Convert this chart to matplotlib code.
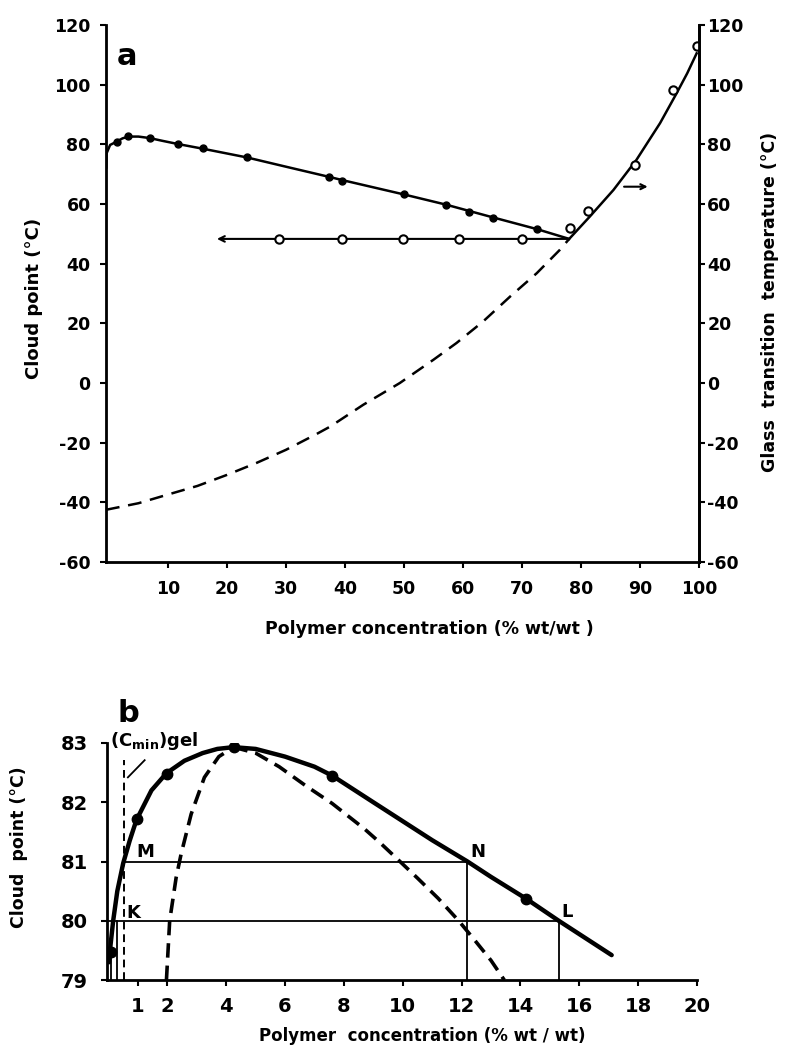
import numpy as np
import matplotlib.pyplot as plt

plt.rcParams['font.family'] = 'DejaVu Sans'
plt.rcParams['axes.unicode_minus'] = False

# panel a: cloud point curve (filled) and glass transition curve (open)
cp_x = [1.3, 3.3, 6.9, 11.7, 16.0, 23.4, 37.3, 39.5, 50.0, 57.1, 61.0, 65.1, 72.5]
cp_y = [80.9, 82.9, 82.0, 80.1, 78.7, 75.8, 69.1, 67.7, 63.4, 59.7, 57.4, 55.3, 51.7]
cp_line_x = [-0.45, -0.4, 0.2, 1.3, 2.3, 3.3, 5.0, 6.9, 9.0, 11.7, 16.0, 23.4, 30.0,
             37.3, 40.0, 50.0, 57.1, 61.0, 65.1, 72.5, 78.0]
cp_line_y = [72.0, 77.0, 79.8, 80.9, 82.0, 82.6, 82.6, 82.1, 81.2, 80.1, 78.5, 75.6, 72.5,
             69.1, 67.8, 63.2, 59.8, 57.7, 55.5, 51.6, 48.3]

gel_x = [28.8, 39.5, 49.8, 59.3, 70.0]
gel_y = [48.3, 48.3, 48.3, 48.3, 48.3]

tg_x = [78.1, 81.2, 89.2, 95.6, 99.6]
tg_y = [51.9, 57.5, 73.1, 98.2, 113.0]
tg_line_x = [78.0, 81.5, 85.5, 89.4, 93.4, 96.2, 98.0, 99.6]
tg_line_y = [48.3, 55.8, 64.7, 74.8, 87.1, 97.1, 103.8, 110.5]
tg_ext_x = [-0.5, 5, 9.8, 15, 20, 25, 30, 35, 37.5, 43.1, 49.3, 55, 58.9, 63.4, 68, 72.5, 76.4, 78]
tg_ext_y = [-42.5, -40.3, -37.5, -34.5, -30.8, -26.8, -22.4, -17.3, -14.6, -7.3, 0.0,
            7.8, 13.4, 20.6, 29.0, 36.8, 44.6, 48.3]

# panel b: low concentration detail
b_pts_x = [0.08, 0.97, 2.0, 4.25, 7.6, 14.2]
b_pts_y = [79.47, 81.72, 82.48, 82.93, 82.45, 80.37]
b_line_x = [0.02, 0.05, 0.16, 0.3, 0.5, 0.72, 0.95, 1.46, 1.97, 2.58, 3.2, 3.7, 4.25, 5.0,
            6.0, 7.0, 7.6, 9.0, 10.0, 11.0, 12.2, 13.0, 14.2, 15.3, 16.2, 17.1]
b_line_y = [79.3, 79.5, 80.0, 80.5, 80.97, 81.35, 81.7, 82.2, 82.49, 82.7, 82.83, 82.9, 82.93,
            82.9, 82.77, 82.6, 82.45, 82.0, 81.68, 81.36, 81.0, 80.74, 80.37, 80.0, 79.71, 79.42]
b_rise_x = [1.97, 2.08, 2.3, 2.47, 2.81, 3.26, 3.75, 4.25]
b_rise_y = [79.0, 80.0, 80.73, 81.13, 81.8, 82.42, 82.77, 82.93]
b_fall_x = [4.25, 5.0, 5.8, 6.7, 7.6, 8.7, 9.2, 9.8, 10.5, 11.2, 11.9, 12.4, 13.0, 13.45]
b_fall_y = [82.93, 82.83, 82.6, 82.28, 81.98, 81.55, 81.33, 81.05, 80.72, 80.38, 80.0, 79.7,
            79.33, 79.0]
cmin_gel = 0.52
M_x, N_x, L_x, K_x = 0.5, 12.2, 15.3, 0.3

fig = plt.figure(figsize=(7.9, 10.5), dpi=100)

# ---------------- panel a ----------------
ax1 = fig.add_axes([106/790, 1 - 562/1050, 593/790, 537/1050])
ax1.set_xlim(-0.5, 100)
ax1.set_ylim(-60, 120)
ax1.spines['top'].set_visible(False)
for s in ['left', 'right', 'bottom']:
    ax1.spines[s].set_linewidth(2.0)
ax1.set_xticks(np.arange(10, 101, 10))
ax1.set_yticks(np.arange(-60, 121, 20))
ax1.tick_params(axis='both', direction='out', length=4, width=1.5, labelsize=12.5)
ax1.tick_params(axis='x', pad=9)
ax1.tick_params(axis='y', pad=7)
for lab in ax1.get_xticklabels() + ax1.get_yticklabels():
    lab.set_fontweight('bold')

ax1.plot(cp_line_x, cp_line_y, c='black', lw=1.8, solid_capstyle='round')
ax1.plot(cp_x, cp_y, 'o', c='black', ms=5)
ax1.plot(tg_line_x, tg_line_y, c='black', lw=1.8)
ax1.plot(tg_ext_x, tg_ext_y, c='black', lw=1.8, dashes=(5.5, 3.5))
ax1.annotate('', xy=(18.3, 48.3), xytext=(78.0, 48.3),
             arrowprops=dict(arrowstyle='->', lw=1.5, color='black',
                             shrinkA=0, shrinkB=0, mutation_scale=10))
ax1.plot(gel_x, gel_y, 'o', c='black', mfc='white', ms=6, mew=1.5, zorder=5)
ax1.plot(tg_x, tg_y, 'o', c='black', mfc='white', ms=6, mew=1.5, zorder=5)
ax1.annotate('', xy=(91.3, 65.8), xytext=(87.3, 65.8),
             arrowprops=dict(arrowstyle='->', lw=1.5, color='black',
                             shrinkA=0, shrinkB=0, mutation_scale=9))
ax1.text(1.4, 106.5, 'a', fontsize=22, fontweight='bold')

ax1.set_ylabel('Cloud point (°C)', fontsize=13, fontweight='bold')
ax1.yaxis.set_label_coords(-0.106, 0.49)
ax1.set_xlabel('Polymer concentration (% wt/wt )', fontsize=12.5, fontweight='bold')
ax1.xaxis.set_label_coords(0.545, -0.108)

ax1r = ax1.twinx()
ax1r.set_ylim(-60, 120)
ax1r.set_yticks(np.arange(-60, 121, 20))
ax1r.tick_params(axis='y', direction='out', length=4, width=1.5, labelsize=12.5, pad=2)
for lab in ax1r.get_yticklabels():
    lab.set_fontweight('bold')
ax1r.spines['top'].set_visible(False)
ax1r.spines['right'].set_linewidth(2.0)
ax1r.set_ylabel('Glass  transition  temperature (°C)', fontsize=12.5, fontweight='bold')
ax1r.yaxis.set_label_coords(1.105, 0.485)

# ---------------- panel b ----------------
ax2 = fig.add_axes([107/790, 1 - 980/1050, 590/790, 237/1050])
ax2.set_xlim(-0.05, 20)
ax2.set_ylim(79, 83)
ax2.spines['top'].set_visible(False)
ax2.spines['right'].set_visible(False)
for s in ['left', 'bottom']:
    ax2.spines[s].set_linewidth(2.0)
ax2.set_xticks([1, 2, 4, 6, 8, 10, 12, 14, 16, 18, 20])
ax2.set_yticks([79, 80, 81, 82, 83])
ax2.tick_params(axis='both', direction='out', length=4, width=1.5, labelsize=14)
ax2.tick_params(axis='x', pad=8)
ax2.tick_params(axis='y', pad=10)
for lab in ax2.get_xticklabels() + ax2.get_yticklabels():
    lab.set_fontweight('bold')

# construction lines
ax2.plot([M_x, N_x], [81, 81], c='black', lw=1.3)
ax2.plot([-0.05, L_x], [80, 80], c='black', lw=1.3)
ax2.plot([N_x, N_x], [79, 81], c='black', lw=1.3)
ax2.plot([L_x, L_x], [79, 80], c='black', lw=1.3)
ax2.plot([0.1, 0.1], [79, 79.5], c='black', lw=1.3)
ax2.plot([K_x, K_x], [79, 80], c='black', lw=1.3)
ax2.plot([cmin_gel, cmin_gel], [79, 82.72], c='black', lw=1.4, dashes=(4, 2.5))
ax2.plot([0.66, 1.23], [82.42, 82.71], c='black', lw=1.3)

ax2.plot(b_line_x, b_line_y, c='black', lw=3.2, solid_capstyle='round')
ax2.plot(b_rise_x, b_rise_y, c='black', lw=2.6, dashes=(4, 2.2))
ax2.plot(b_fall_x, b_fall_y, c='black', lw=2.6, dashes=(4, 2.2))
ax2.plot(b_pts_x, b_pts_y, 'o', c='black', ms=7.5)

ax2.text(0.95, 81.07, 'M', fontsize=13, fontweight='bold')
ax2.text(0.62, 80.05, 'K', fontsize=13, fontweight='bold')
ax2.text(12.3, 81.07, 'N', fontsize=13, fontweight='bold')
ax2.text(15.4, 80.07, 'L', fontsize=13, fontweight='bold')
ax2.text(0.05, 82.95, r'$\mathbf{(C_{min})}$gel', fontsize=13, fontweight='bold')
ax2.text(0.3, 83.35, 'b', fontsize=22, fontweight='bold')

ax2.set_ylabel('Cloud  point (°C)', fontsize=12.5, fontweight='bold')
ax2.yaxis.set_label_coords(-0.134, 0.56)
ax2.set_xlabel('Polymer  concentration (% wt / wt)', fontsize=12, fontweight='bold')
ax2.xaxis.set_label_coords(0.534, -0.2)

fig.savefig('out.png', dpi=100)
